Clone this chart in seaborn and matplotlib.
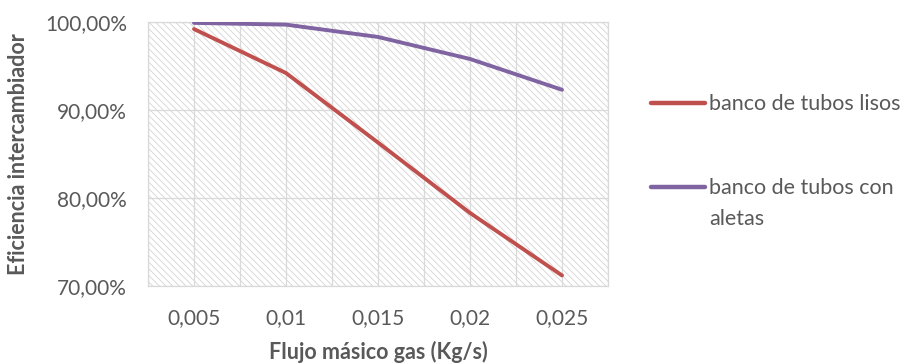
import matplotlib
matplotlib.use("Agg")
import matplotlib.pyplot as plt
import seaborn as sns
import pandas as pd
import numpy as np
from matplotlib.patches import Rectangle
from matplotlib.lines import Line2D
from matplotlib.ticker import FuncFormatter, MultipleLocator

categories = ["0,005", "0,01", "0,015", "0,02", "0,025"]
lisos = [99.2, 94.2, 86.3, 78.3, 71.2]
aletas = [99.9, 99.7, 98.3, 95.8, 92.3]
series_names = ["banco de tubos lisos", "banco de tubos con\naletas"]

df = pd.DataFrame({
    "pos": list(range(len(categories))) * 2,
    "val": lisos + aletas,
    "serie": [series_names[0]] * len(categories) + [series_names[1]] * len(categories),
})

sns.set_theme(style="white")
plt.rcParams["font.family"] = ["Lato", "DejaVu Sans"]
plt.rcParams["hatch.linewidth"] = 0.6

W, H = 908, 363
fig = plt.figure(figsize=(W / 100, H / 100), dpi=100)
ax = fig.add_axes([148 / W, 1 - 286 / H, 460 / W, 264 / H])

ax.add_patch(Rectangle((0, 0), 1, 1, transform=ax.transAxes, facecolor="white",
                       edgecolor="#D4D4D4", hatch="\\\\\\\\\\", linewidth=0, zorder=0))

palette = {series_names[0]: "#C0504D", series_names[1]: "#8064A2"}
sns.lineplot(data=df, x="pos", y="val", hue="serie", palette=palette, ax=ax,
             linewidth=2.8, legend=False, zorder=3)

ax.set_xlim(-0.5, len(categories) - 0.5)
ax.set_ylim(70, 100)
ax.set_xticks(range(len(categories)))
ax.set_xticklabels(categories)
ax.xaxis.set_minor_locator(MultipleLocator(0.5))
ax.yaxis.set_major_locator(MultipleLocator(10))
ax.yaxis.set_major_formatter(FuncFormatter(lambda v, p: f"{v:.2f}%".replace(".", ",")))
ax.grid(True, which="both", axis="x", color="#D9D9D9", linewidth=0.9, zorder=1)
ax.grid(True, which="major", axis="y", color="#D9D9D9", linewidth=0.9, zorder=1)
ax.set_axisbelow(True)
for s in ax.spines.values():
    s.set_color("#D9D9D9")
    s.set_linewidth(0.9)
ax.tick_params(axis="both", which="both", length=0, labelsize=15, colors="#595959")
ax.tick_params(axis="y", pad=15)
ax.tick_params(axis="x", pad=16)

ax.set_xlabel("Flujo másico gas (Kg/s)", fontsize=15.5, fontweight="bold", color="#595959", labelpad=4)
ax.set_ylabel("Eficiencia intercambiador", fontsize=15.5, fontweight="bold", color="#595959", labelpad=8)
ax.xaxis.set_label_coords(0.5, -(352 - 286) / 264, transform=ax.transAxes)
ax.xaxis.label.set_va("center")
ax.yaxis.set_label_coords((19 - 148) / 460, 0.5, transform=ax.transAxes)
ax.yaxis.label.set_va("center")

# manual legend (layout only)
legend_rows = [(103, series_names[0]), (187, series_names[1])]
for y, name in legend_rows:
    fig.add_artist(Line2D([651 / W, 705 / W], [1 - y / H, 1 - y / H], transform=fig.transFigure,
                          color=palette[name], linewidth=3.2, solid_capstyle="round"))
    for i, part in enumerate(name.split("\n")):
        yb = y + 7 + i * 31
        fig.text(709 / W, 1 - yb / H, part, fontsize=15.5, color="#595959", va="baseline",
                 ha="left", transform=fig.transFigure)

fig.savefig("out.png", dpi=100)
